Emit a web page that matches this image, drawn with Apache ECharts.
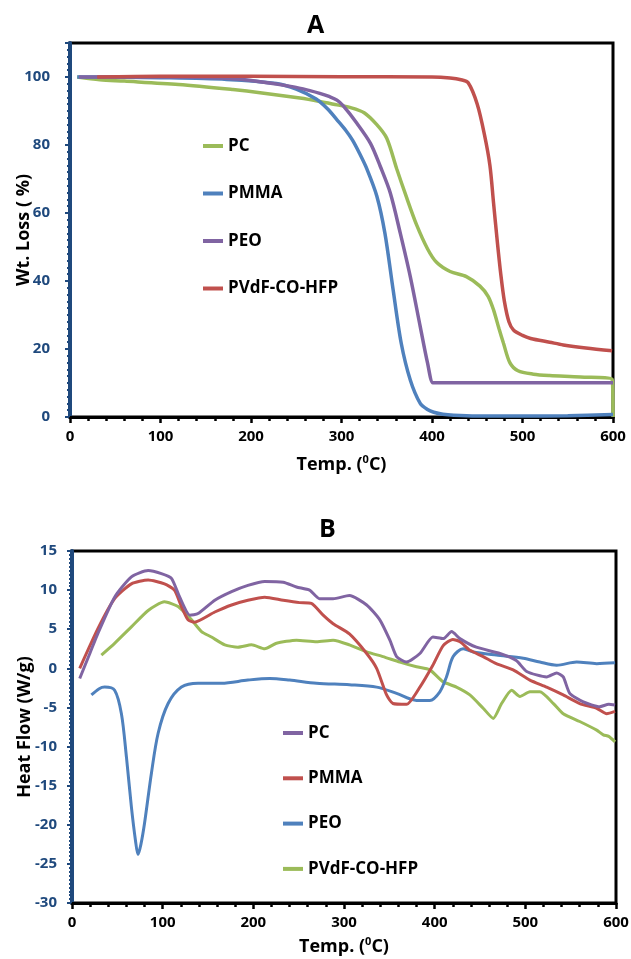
<!DOCTYPE html>
<html><head><meta charset="utf-8">
<script src="https://cdn.jsdelivr.net/npm/echarts@6/dist/echarts.min.js"></script>
<style>html,body{margin:0;padding:0;background:#fff}#c{width:631px;height:959px}</style>
</head><body><div id="c"></div>
<script>
// ---------- Chart A : TGA (Wt. Loss %) ----------
const aPC_T   = [8, 33, 60, 120, 180, 210, 254, 276, 295, 310, 325, 339, 350, 361, 372, 383, 395, 405, 420, 438, 453, 462, 468, 474, 479, 486, 495, 512, 530, 564, 599, 600];
const aPC_W   = [100, 99.2, 98.8, 97.8, 96.3, 95.4, 93.8, 92.8, 91.8, 91, 89.5, 86, 82, 73, 64.5, 56.5, 49.5, 45.5, 42.8, 41.3, 38.5, 35.5, 31.5, 26, 21.7, 16, 13.6, 12.6, 12.2, 11.8, 11.1, 0];
const aPMMA_T = [8, 30, 100, 173, 228, 250, 272, 285, 295, 305, 312, 320, 328, 339, 348, 357, 366, 376, 387, 395, 402, 412, 424, 450, 500, 550, 600];
const aPMMA_W = [100, 100, 99.8, 99.3, 98.1, 96.4, 93.5, 90.5, 87.4, 84.2, 81.5, 77.5, 73, 65, 54, 37.5, 21.7, 10.9, 4, 2.2, 1.4, 0.8, 0.5, 0.3, 0.3, 0.4, 0.7];
const aPEO_T  = [10, 100, 173, 210, 247, 265, 276, 287, 295, 302, 317, 332, 343, 354, 365, 376, 387, 395, 401, 405, 450, 500, 550, 600];
const aPEO_W  = [100, 100, 99.6, 98.6, 97.1, 96, 95.2, 94.2, 93.2, 91.5, 86.4, 80.5, 73.6, 65.8, 54, 41.3, 26.6, 16, 10.1, 10.1, 10.1, 10.1, 10.1, 10.1];
const aPVDF_T = [30, 100, 200, 300, 400, 420, 432, 440, 450, 458, 464, 468, 472, 476, 480, 485, 490, 500, 509, 530, 545, 570, 599];
const aPVDF_W = [100, 100.2, 100.2, 100.1, 100, 99.7, 99.2, 98.3, 92, 83, 74, 63, 52, 42, 34, 28, 25.6, 24, 23.1, 22, 21.2, 20.3, 19.5];

// ---------- Chart B : DSC (Heat Flow W/g) ----------
const bPC_T   = [8.5, 20, 28.7, 47, 65.5, 84, 98.6, 109.7, 118.8, 130, 139, 157.5, 176, 194, 212.6, 233, 247.6, 262, 273, 288, 306, 325, 339.5, 350.6, 358, 369, 383.7, 398, 409.4, 418.7, 427.8, 446, 472, 490, 501.5, 523.5, 534.5, 541.8, 549, 564, 582, 592, 599];
const bPC_HF  = [-1.3, 2, 4.5, 9.1, 11.7, 12.5, 12.1, 11.5, 9.1, 6.8, 7.0, 8.7, 9.8, 10.6, 11.1, 11.0, 10.4, 10.0, 8.9, 8.9, 9.3, 8.1, 6.2, 3.6, 1.5, 0.8, 1.9, 4.0, 3.8, 4.7, 3.8, 2.7, 1.9, 1.0, -0.4, -1.1, -0.6, -1.1, -3.2, -4.3, -4.9, -4.6, -4.7];
const bPMMA_T = [8.5, 28.7, 47, 65.5, 84, 102, 113, 120.7, 128, 135, 157.5, 176, 194, 212.6, 233, 251, 264, 277, 288, 306, 325, 336, 347, 354, 369, 383.7, 398, 409.4, 420, 428, 439, 453.5, 468, 486.6, 505, 523.5, 541.8, 560, 578.7, 589.7, 599];
const bPMMA_HF= [0.0, 5.1, 8.9, 10.8, 11.3, 10.8, 10.0, 7.9, 6.2, 5.9, 7.2, 8.1, 8.7, 9.1, 8.7, 8.4, 8.3, 6.8, 5.7, 4.4, 1.9, 0.0, -3.4, -4.5, -4.6, -2.4, 0.4, 2.9, 3.7, 3.4, 2.3, 1.5, 0.6, -0.2, -1.5, -2.4, -3.4, -4.5, -5.1, -5.8, -5.5];
const bPEO_T  = [21.4, 30, 36, 47, 54.5, 60, 65.5, 70, 72.8, 76, 80, 87.6, 95, 106, 120.7, 139, 165, 194, 218, 240, 269.7, 306, 336, 358, 380, 394.7, 405.7, 413, 420.4, 431.5, 442.5, 468, 497.7, 516, 534.5, 556.6, 578.7, 599];
const bPEO_HF = [-3.4, -2.6, -2.4, -2.8, -5.8, -11.3, -17.7, -22, -23.8, -22.5, -19.8, -13.4, -8.3, -4.5, -2.4, -1.9, -1.9, -1.5, -1.3, -1.5, -1.9, -2.1, -2.4, -3.2, -4.1, -4.1, -3.0, -1.1, 1.5, 2.5, 2.1, 1.7, 1.3, 0.8, 0.4, 0.8, 0.6, 0.7];
const bPVDF_T = [32.4, 47, 65.5, 84, 102, 117, 131.8, 142.8, 153.8, 168.5, 183, 198, 212.6, 225.5, 247.6, 269.7, 288, 306, 325, 343, 361.6, 380, 394.7, 409, 424, 438.8, 453.5, 464.6, 473.8, 484.9, 494, 505, 516, 531, 541.8, 560, 578.7, 586, 592, 599];
const bPVDF_HF= [1.7, 3.2, 5.3, 7.4, 8.5, 7.9, 6.2, 4.7, 4.0, 3.0, 2.7, 3.0, 2.5, 3.2, 3.6, 3.4, 3.6, 3.0, 2.1, 1.5, 0.8, 0.2, -0.2, -1.7, -2.4, -3.4, -5.1, -6.4, -4.5, -2.8, -3.6, -3.0, -3.0, -4.5, -5.8, -6.8, -7.9, -8.5, -8.7, -9.4];

const namesA = ['PC', 'PMMA', 'PEO', 'PVdF-CO-HFP'];
const namesB = ['PC', 'PMMA', 'PEO', 'PVdF-CO-HFP'];
const titles = ['A', 'B'];
const yNameA = 'Wt. Loss ( %)';
const yNameB = 'Heat Flow (W/g)';

const GREEN = '#9BBB59', BLUE = '#4F81BD', PURPLE = '#8064A2', RED = '#C0504D';
const AXB = '#1F497D';
const FONT = '"Open Sans", "Noto Sans", sans-serif';

function pairs(t, v) { return t.map((x, i) => [x, v[i]]); }

function mkSeries(name, t, v, color, gi, smooth, width) {
  return {
    name: name, type: 'line', xAxisIndex: gi, yAxisIndex: gi,
    data: pairs(t, v), showSymbol: false, symbol: 'none',
    smooth: smooth,
    itemStyle: { color: color }, lineStyle: { color: color, width: width },
    emphasis: { disabled: true }, animation: false
  };
}

const xName = '{n|Temp. (}{s|0}{n|C)}';
const xNameStyle = {
  fontFamily: FONT,
  rich: {
    n: { fontSize: 18, fontWeight: 'bold', color: '#000', lineHeight: 22, fontFamily: FONT },
    s: { fontSize: 11, fontWeight: 'bold', color: '#000', lineHeight: 12, verticalAlign: 'top', fontFamily: FONT }
  }
};

function xAx(gi, gap) {
  return {
    gridIndex: gi, type: 'value', min: 0, max: 600, interval: 100,
    name: xName, nameLocation: 'middle', nameGap: gap, nameTextStyle: xNameStyle, nameMoveOverlap: false,
    axisLine: { show: true, onZero: false, lineStyle: { color: '#000', width: 3 } },
    axisTick: { show: true, length: 6, lineStyle: { color: '#000', width: 2.5 } },
    minorTick: { show: true, splitNumber: 5, length: 4, lineStyle: { color: '#000', width: 2.5 } },
    splitLine: { show: false },
    axisLabel: { color: '#000', fontWeight: 'bold', fontSize: 15, margin: 12, fontFamily: FONT }
  };
}
function yAx(gi, min, max, interval, minorSplit, name, gap, margin, showMax) {
  return {
    gridIndex: gi, type: 'value', min: min, max: max, interval: interval,
    name: name, nameLocation: 'middle', nameGap: gap, nameMoveOverlap: false,
    nameTextStyle: { color: '#000', fontSize: 18, fontWeight: 'bold', fontFamily: FONT },
    axisLine: { show: true, onZero: false, lineStyle: { color: AXB, width: 4 } },
    axisTick: { show: true, length: 5, lineStyle: { color: AXB, width: 2 } },
    minorTick: { show: true, splitNumber: minorSplit, length: 3, lineStyle: { color: AXB, width: 2 } },
    splitLine: { show: false },
    axisLabel: { color: AXB, fontWeight: 'bold', fontSize: 15, margin: margin, fontFamily: FONT, showMaxLabel: showMax }
  };
}

const legendText = { color: '#000', fontSize: 17, fontWeight: 'bold', fontFamily: FONT, lineHeight: 20 };

const option = {
  animation: false,
  backgroundColor: '#fff',
  textStyle: { fontFamily: FONT },
  title: [
    { text: titles[0], left: 'center', top: 8, textStyle: { fontSize: 25, fontWeight: 'bold', color: '#000', fontFamily: FONT } },
    { text: titles[1], left: 314, top: 512, textStyle: { fontSize: 25, fontWeight: 'bold', color: '#000', fontFamily: FONT } }
  ],
  grid: [
    { left: 70, top: 43, right: 18, height: 374, show: true, borderColor: '#000', borderWidth: 3, backgroundColor: 'transparent', containLabel: false, outerBoundsMode: 'none' },
    { left: 72, top: 551, right: 15, height: 352, show: true, borderColor: '#000', borderWidth: 3, backgroundColor: 'transparent', containLabel: false, outerBoundsMode: 'none' }
  ],
  legend: [
    { orient: 'vertical', left: 198, top: 131, itemGap: 27.5, icon: 'rect', itemWidth: 20, itemHeight: 4,
      data: ['a_PC', 'a_PMMA', 'a_PEO', 'a_PVDF'], selectedMode: false,
      formatter: (n) => namesA[['a_PC', 'a_PMMA', 'a_PEO', 'a_PVDF'].indexOf(n)], textStyle: legendText },
    { orient: 'vertical', left: 278, top: 718, itemGap: 25.3, icon: 'rect', itemWidth: 20, itemHeight: 4,
      data: ['b_PC', 'b_PMMA', 'b_PEO', 'b_PVDF'], selectedMode: false,
      formatter: (n) => namesB[['b_PC', 'b_PMMA', 'b_PEO', 'b_PVDF'].indexOf(n)], textStyle: legendText }
  ],
  xAxis: [xAx(0, 37), xAx(1, 33)],
  yAxis: [yAx(0, 0, 110, 20, 10, yNameA, 37, 20, false), yAx(1, -30, 15, 5, 10, yNameB, 38, 15, true)],
  series: [
    mkSeries('a_PC', aPC_T, aPC_W, GREEN, 0, 0.3, 3.5),
    mkSeries('a_PMMA', aPMMA_T, aPMMA_W, BLUE, 0, 0.3, 3.5),
    mkSeries('a_PEO', aPEO_T, aPEO_W, PURPLE, 0, 0.3, 3.5),
    mkSeries('a_PVDF', aPVDF_T, aPVDF_W, RED, 0, 0.3, 3.5),
    mkSeries('b_PVDF', bPVDF_T, bPVDF_HF, GREEN, 1, 0.2, 3),
    mkSeries('b_PEO', bPEO_T, bPEO_HF, BLUE, 1, 0.3, 3),
    mkSeries('b_PMMA', bPMMA_T, bPMMA_HF, RED, 1, 0.2, 3),
    mkSeries('b_PC', bPC_T, bPC_HF, PURPLE, 1, 0.2, 3)
  ]
};

const chart = echarts.init(document.getElementById('c'), null, { renderer: 'canvas', width: 631, height: 959 });
chart.setOption(option);
</script></body></html>
